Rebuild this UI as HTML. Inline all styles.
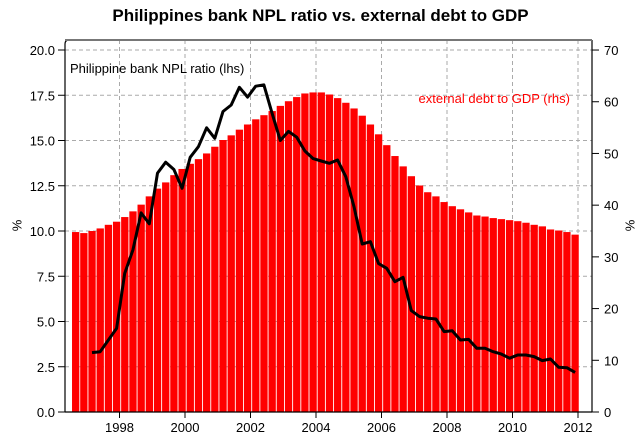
<!DOCTYPE html>
<html><head><meta charset="utf-8"><style>
body{margin:0;background:#fff}
svg{display:block;font-family:"Liberation Sans",sans-serif}
</style></head><body>
<svg id="c" width="641" height="445"></svg>
<script>
const debt=[34.8,34.6,35.0,35.5,36.2,36.8,37.7,38.8,40.1,41.7,43.2,44.4,45.8,47.0,48.0,48.9,50.0,51.3,52.6,53.5,54.6,55.6,56.6,57.4,58.2,59.2,60.1,60.9,61.6,61.8,61.8,61.4,60.7,59.8,58.7,57.3,55.6,53.7,51.6,49.5,47.5,45.6,43.8,42.5,41.7,40.6,39.8,39.2,38.6,38.0,37.8,37.5,37.3,37.1,36.9,36.6,36.2,35.9,35.3,35.1,34.8,34.3];
const npl=[null,null,3.28,3.33,3.98,4.62,7.66,8.95,11.0,10.4,13.2,13.8,13.4,12.36,14.07,14.66,15.7,15.12,16.6,16.96,17.94,17.4,18.0,18.07,16.5,15.0,15.5,15.18,14.42,14.0,13.87,13.74,13.92,13.0,11.34,9.28,9.41,8.2,7.94,7.2,7.44,5.6,5.27,5.18,5.14,4.44,4.49,3.98,4.01,3.52,3.52,3.33,3.2,2.97,3.15,3.15,3.06,2.84,2.93,2.47,2.45,2.19];
const startYear=1996.66;
const leftTicks=["0.0","2.5","5.0","7.5","10.0","12.5","15.0","17.5","20.0"];
const rightTicks=["0","10","20","30","40","50","60","70"];
const xTicks=[1998,2000,2002,2004,2006,2008,2010,2012];
const NS="http://www.w3.org/2000/svg";
const svg=document.getElementById('c');
const X=yr=>316+(yr-2004)*32.75;
const YL=v=>412-v*18.1;
const YR=v=>412-v*5.171;
function mk(t,a,p){const e=document.createElementNS(NS,t);for(const k in a)e.setAttribute(k,a[k]);(p||svg).appendChild(e);return e;}
// grid
const g=mk('g',{});


leftTicks.forEach((t,i)=>{const y=YL(i*2.5);mk('line',{x1:65,x2:592,y1:y,y2:y,stroke:'#aaa','stroke-dasharray':'4,3','stroke-width':1},g);});
xTicks.forEach(yr=>{mk('line',{x1:X(yr),x2:X(yr),y1:40,y2:412,stroke:'#aaa','stroke-dasharray':'4,3','stroke-width':1},g);});
// bars
debt.forEach((v,i)=>{const cx=X(startYear+i*0.25);const r=mk('rect',{x:cx-3.6,y:YR(v),width:7.3,height:412-YR(v),fill:'#ff0000'});

});
// line
let d='';npl.forEach((v,i)=>{if(v==null)return;const x=X(startYear+i*0.25),y=YL(v);d+=(d?'L':'M')+x.toFixed(1)+','+y.toFixed(1);});
const ln=mk('path',{d:d,fill:'none',stroke:'#000','stroke-width':3,'stroke-linejoin':'round'});


// frame
const fr=mk('path',{d:'M65,412 L65,44 Q65,40 69,40 L592,40 M592,40 L592,412 M65,412 L592,412',fill:'none',stroke:'#000','stroke-width':1.2});


mk('line',{x1:65,x2:592,y1:40,y2:40,stroke:'#777','stroke-width':2});
// left ticks
leftTicks.forEach((t,i)=>{const y=YL(i*2.5);mk('line',{x1:58,x2:65,y1:y,y2:y,stroke:'#000'});const tx=mk('text',{x:55,y:y+5,'text-anchor':'end','font-size':13});tx.textContent=t;

});
rightTicks.forEach((t,i)=>{const y=YR(i*10);mk('line',{x1:592,x2:599,y1:y,y2:y,stroke:'#000'});const tx=mk('text',{x:604,y:y+5,'font-size':13});tx.textContent=t;

});
xTicks.forEach(yr=>{const x=X(yr);mk('line',{x1:x,x2:x,y1:412,y2:418,stroke:'#000'});const tx=mk('text',{x:x,y:432,'text-anchor':'middle','font-size':13});tx.textContent=yr;

});
</script>
<svg width="0" height="0"></svg>
<div style="position:absolute;left:0;top:0;width:641px;height:445px;pointer-events:none;font-family:'Liberation Sans',sans-serif">
<div style="position:absolute;left:0;width:641px;top:6px;text-align:center;font-weight:bold;font-size:17px">Philippines bank NPL ratio vs. external debt to GDP</div>
<div style="position:absolute;left:70px;top:61px;font-size:13px">Philippine bank NPL ratio (lhs)</div>
<div style="position:absolute;right:71px;top:91px;font-size:13px;color:#ff0000">external debt to GDP (rhs)</div>
<div style="position:absolute;left:11px;top:218px;font-size:13px;transform:rotate(-90deg)">%</div>
<div style="position:absolute;left:624px;top:218px;font-size:13px;transform:rotate(-90deg)">%</div>
</div>
</body></html>
